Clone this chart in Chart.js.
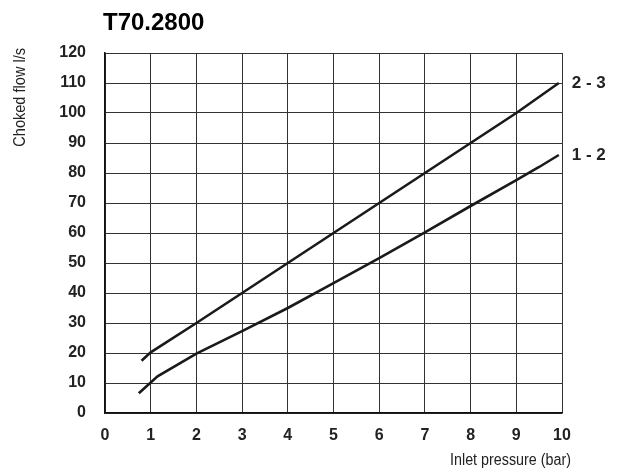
<!DOCTYPE html>
<html>
<head>
<meta charset="utf-8">
<script src="https://cdn.jsdelivr.net/npm/chart.js@4"></script>
<style>
  body { margin: 0; background: #fff; }
  #wrap { width: 624px; height: 474px; }
</style>
</head>
<body>
<div id="wrap"><canvas id="chart" width="624" height="474"></canvas></div>
<script>
// Values
const pressure23 = [0.8, 1, 2, 3, 4, 5, 6, 7, 8, 9, 9.93];
const flow23 = [17.4, 20.2, 30, 40, 50, 60, 70, 80, 90, 100, 110];
const pressure12 = [0.74, 1.15, 2, 3, 4, 5, 6, 7, 8, 9, 9.5, 9.93];
const flow12 = [6.6, 12.2, 19.8, 27.3, 35, 43.3, 51.6, 60.2, 69, 77.6, 82, 86];
const seriesLabels = ["2 - 3", "1 - 2"];
const chartTitle = "T70.2800";
const xTitle = "Inlet pressure (bar)";
const yTitle = "Choked flow l/s";

const toPoints = (xs, ys) => xs.map((x, i) => ({ x, y: ys[i] }));

const sans = '"Liberation Sans", Arial, sans-serif';

// Draw title, axis titles (condensed look) and curve labels
const textPlugin = {
  id: "texts",
  afterDraw(chart) {
    const ctx = chart.ctx;
    const xs = chart.scales.x, ys = chart.scales.y;
    ctx.save();
    ctx.fillStyle = "#000";

    ctx.font = "bold 24px " + sans;
    ctx.textAlign = "left";
    ctx.textBaseline = "alphabetic";
    ctx.fillText(chartTitle, 103, 30);

    ctx.font = "16px " + sans;
    ctx.fillStyle = "#222";
    ctx.textBaseline = "middle";

    ctx.save();
    ctx.translate(571, 461);
    ctx.scale(0.895, 1);
    ctx.textAlign = "right";
    ctx.fillText(xTitle, 0, 0);
    ctx.restore();

    ctx.save();
    ctx.translate(21, 48);
    ctx.rotate(-Math.PI / 2);
    ctx.scale(0.91, 1);
    ctx.textAlign = "right";
    ctx.fillText(yTitle, 0, 0);
    ctx.restore();

    ctx.font = "bold 17px " + sans;
    ctx.textAlign = "left";
    chart.data.datasets.forEach(ds => {
      const last = ds.data[ds.data.length - 1];
      ctx.fillText(ds.label, xs.getPixelForValue(last.x) + 13, ys.getPixelForValue(last.y));
    });
    ctx.restore();
  }
};

new Chart(document.getElementById("chart"), {
  type: "line",
  data: {
    datasets: [
      { label: seriesLabels[0], data: toPoints(pressure23, flow23) },
      { label: seriesLabels[1], data: toPoints(pressure12, flow12) }
    ]
  },
  options: {
    responsive: false,
    animation: false,
    elements: {
      line: { borderColor: "#1a1a1a", borderWidth: 2.6, tension: 0, fill: false },
      point: { radius: 0 }
    },
    layout: { padding: { left: 0, right: 62, top: 53, bottom: 0 } },
    plugins: { legend: { display: false }, tooltip: { enabled: false } },
    scales: {
      x: {
        type: "linear",
        min: 0,
        max: 10,
        afterFit: s => { s.height = 61; },
        ticks: { stepSize: 1, padding: 13, color: "#222", font: { family: sans, size: 16, weight: "bold" } },
        grid: { color: "#333", lineWidth: 1, drawTicks: false },
        border: { color: "#111", width: 1.5 }
      },
      y: {
        min: 0,
        max: 120,
        afterFit: s => { s.width = 105; },
        ticks: { stepSize: 10, padding: 19, color: "#222", font: { family: sans, size: 16, weight: "bold" } },
        grid: { color: "#333", lineWidth: 1, drawTicks: false },
        border: { color: "#111", width: 1.5 }
      }
    }
  },
  plugins: [textPlugin]
});
</script>
</body>
</html>
